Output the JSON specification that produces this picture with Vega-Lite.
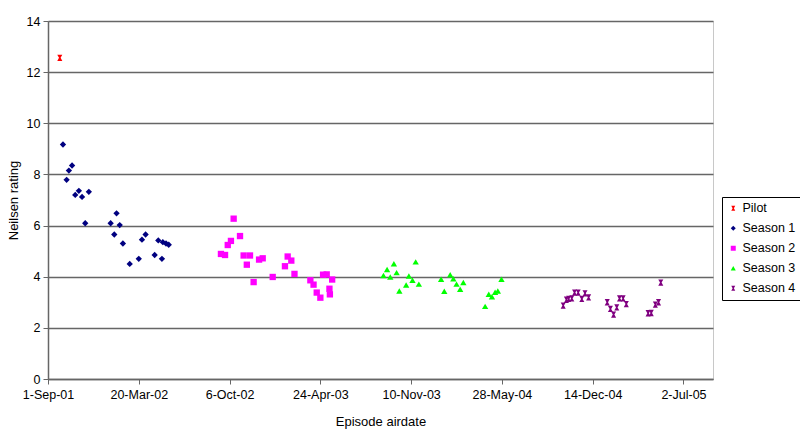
{
  "$schema": "https://vega.github.io/schema/vega-lite/v6.json",
  "width": 665,
  "height": 358,
  "autosize": {"type": "none"},
  "padding": {"left": 48, "top": 21, "right": 87, "bottom": 60},
  "background": "white",
  "config": {
    "font": "Liberation Sans",
    "view": {"stroke": "#c8c8c8", "strokeWidth": 1}
  },
  "data": {
    "values": [
      {"series": "Pilot", "date": "2001-09-27", "rating": 12.56},
      {"series": "Season 1", "date": "2001-10-04", "rating": 9.17},
      {"series": "Season 1", "date": "2001-10-12", "rating": 7.79},
      {"series": "Season 1", "date": "2001-10-17", "rating": 8.15},
      {"series": "Season 1", "date": "2001-10-24", "rating": 8.35},
      {"series": "Season 1", "date": "2001-10-31", "rating": 7.2},
      {"series": "Season 1", "date": "2001-11-08", "rating": 7.36},
      {"series": "Season 1", "date": "2001-11-15", "rating": 7.12},
      {"series": "Season 1", "date": "2001-11-22", "rating": 6.09},
      {"series": "Season 1", "date": "2001-11-30", "rating": 7.32},
      {"series": "Season 1", "date": "2002-01-17", "rating": 6.09},
      {"series": "Season 1", "date": "2002-01-25", "rating": 5.65},
      {"series": "Season 1", "date": "2002-01-30", "rating": 6.48},
      {"series": "Season 1", "date": "2002-02-06", "rating": 6.02},
      {"series": "Season 1", "date": "2002-02-13", "rating": 5.3},
      {"series": "Season 1", "date": "2002-02-28", "rating": 4.5},
      {"series": "Season 1", "date": "2002-03-20", "rating": 4.7},
      {"series": "Season 1", "date": "2002-03-27", "rating": 5.45},
      {"series": "Season 1", "date": "2002-04-04", "rating": 5.65},
      {"series": "Season 1", "date": "2002-04-24", "rating": 4.85},
      {"series": "Season 1", "date": "2002-05-02", "rating": 5.42},
      {"series": "Season 1", "date": "2002-05-10", "rating": 4.7},
      {"series": "Season 1", "date": "2002-05-12", "rating": 5.35},
      {"series": "Season 1", "date": "2002-05-19", "rating": 5.3},
      {"series": "Season 1", "date": "2002-05-25", "rating": 5.25},
      {"series": "Season 2", "date": "2002-09-17", "rating": 4.89},
      {"series": "Season 2", "date": "2002-09-26", "rating": 4.85},
      {"series": "Season 2", "date": "2002-10-02", "rating": 5.24},
      {"series": "Season 2", "date": "2002-10-09", "rating": 5.4},
      {"series": "Season 2", "date": "2002-10-15", "rating": 6.27},
      {"series": "Season 2", "date": "2002-10-29", "rating": 5.59},
      {"series": "Season 2", "date": "2002-11-06", "rating": 4.83},
      {"series": "Season 2", "date": "2002-11-13", "rating": 4.47},
      {"series": "Season 2", "date": "2002-11-20", "rating": 4.83},
      {"series": "Season 2", "date": "2002-11-28", "rating": 3.79},
      {"series": "Season 2", "date": "2002-12-10", "rating": 4.67},
      {"series": "Season 2", "date": "2002-12-18", "rating": 4.72},
      {"series": "Season 2", "date": "2003-01-09", "rating": 3.99},
      {"series": "Season 2", "date": "2003-02-05", "rating": 4.41},
      {"series": "Season 2", "date": "2003-02-11", "rating": 4.79},
      {"series": "Season 2", "date": "2003-02-19", "rating": 4.63},
      {"series": "Season 2", "date": "2003-02-26", "rating": 4.11},
      {"series": "Season 2", "date": "2003-04-02", "rating": 3.86},
      {"series": "Season 2", "date": "2003-04-09", "rating": 3.69},
      {"series": "Season 2", "date": "2003-04-16", "rating": 3.38},
      {"series": "Season 2", "date": "2003-04-24", "rating": 3.18},
      {"series": "Season 2", "date": "2003-04-30", "rating": 4.08},
      {"series": "Season 2", "date": "2003-05-08", "rating": 4.09},
      {"series": "Season 2", "date": "2003-05-14", "rating": 3.53},
      {"series": "Season 2", "date": "2003-05-15", "rating": 3.31},
      {"series": "Season 2", "date": "2003-05-20", "rating": 3.89},
      {"series": "Season 3", "date": "2003-09-10", "rating": 4.05},
      {"series": "Season 3", "date": "2003-09-18", "rating": 4.28},
      {"series": "Season 3", "date": "2003-09-25", "rating": 3.99},
      {"series": "Season 3", "date": "2003-10-03", "rating": 4.51},
      {"series": "Season 3", "date": "2003-10-09", "rating": 4.16},
      {"series": "Season 3", "date": "2003-10-15", "rating": 3.44},
      {"series": "Season 3", "date": "2003-10-30", "rating": 3.68},
      {"series": "Season 3", "date": "2003-11-05", "rating": 4.03},
      {"series": "Season 3", "date": "2003-11-13", "rating": 3.86},
      {"series": "Season 3", "date": "2003-11-20", "rating": 4.58},
      {"series": "Season 3", "date": "2003-11-27", "rating": 3.71},
      {"series": "Season 3", "date": "2004-01-15", "rating": 3.9},
      {"series": "Season 3", "date": "2004-01-22", "rating": 3.43},
      {"series": "Season 3", "date": "2004-02-04", "rating": 4.08},
      {"series": "Season 3", "date": "2004-02-11", "rating": 3.92},
      {"series": "Season 3", "date": "2004-02-18", "rating": 3.71},
      {"series": "Season 3", "date": "2004-02-26", "rating": 3.51},
      {"series": "Season 3", "date": "2004-03-04", "rating": 3.77},
      {"series": "Season 3", "date": "2004-04-21", "rating": 2.84},
      {"series": "Season 3", "date": "2004-04-29", "rating": 3.31},
      {"series": "Season 3", "date": "2004-05-06", "rating": 3.22},
      {"series": "Season 3", "date": "2004-05-13", "rating": 3.39},
      {"series": "Season 3", "date": "2004-05-19", "rating": 3.44},
      {"series": "Season 3", "date": "2004-05-27", "rating": 3.9},
      {"series": "Season 4", "date": "2004-10-10", "rating": 2.87},
      {"series": "Season 4", "date": "2004-10-17", "rating": 3.1},
      {"series": "Season 4", "date": "2004-10-22", "rating": 3.13},
      {"series": "Season 4", "date": "2004-10-29", "rating": 3.15},
      {"series": "Season 4", "date": "2004-11-04", "rating": 3.38},
      {"series": "Season 4", "date": "2004-11-12", "rating": 3.38},
      {"series": "Season 4", "date": "2004-11-20", "rating": 3.13},
      {"series": "Season 4", "date": "2004-11-27", "rating": 3.35},
      {"series": "Season 4", "date": "2004-12-05", "rating": 3.19},
      {"series": "Season 4", "date": "2005-01-15", "rating": 3.0},
      {"series": "Season 4", "date": "2005-01-22", "rating": 2.74},
      {"series": "Season 4", "date": "2005-01-29", "rating": 2.52},
      {"series": "Season 4", "date": "2005-02-05", "rating": 2.8},
      {"series": "Season 4", "date": "2005-02-11", "rating": 3.15},
      {"series": "Season 4", "date": "2005-02-19", "rating": 3.15},
      {"series": "Season 4", "date": "2005-02-26", "rating": 2.93},
      {"series": "Season 4", "date": "2005-04-15", "rating": 2.57},
      {"series": "Season 4", "date": "2005-04-22", "rating": 2.58},
      {"series": "Season 4", "date": "2005-05-01", "rating": 2.91},
      {"series": "Season 4", "date": "2005-05-08", "rating": 3.0},
      {"series": "Season 4", "date": "2005-05-13", "rating": 3.77}
    ]
  },
  "mark": {"type": "point", "filled": true, "opacity": 1, "size": 40},
  "encoding": {
    "x": {
      "field": "date",
      "type": "temporal",
      "scale": {
        "type": "utc",
        "nice": false,
        "domain": [
          {"year": 2001, "month": 9, "date": 1, "utc": true},
          {"year": 2005, "month": 9, "date": 5, "utc": true}
        ]
      },
      "axis": {
        "title": "Episode airdate",
        "labelExpr": "utcFormat(datum.value, '%-d-%b-%y')",
        "values": [
          {"year": 2001, "month": 9, "date": 1, "utc": true},
          {"year": 2002, "month": 3, "date": 20, "utc": true},
          {"year": 2002, "month": 10, "date": 6, "utc": true},
          {"year": 2003, "month": 4, "date": 24, "utc": true},
          {"year": 2003, "month": 11, "date": 10, "utc": true},
          {"year": 2004, "month": 5, "date": 28, "utc": true},
          {"year": 2004, "month": 12, "date": 14, "utc": true},
          {"year": 2005, "month": 7, "date": 2, "utc": true}
        ],
        "grid": false,
        "domainColor": "#666666",
        "domainWidth": 1.5,
        "tickColor": "#666666",
        "tickSize": 5,
        "labelFontSize": 12.5,
        "labelColor": "#000000",
        "labelPadding": 4,
        "labelFlush": false,
        "labelOverlap": false,
        "titleFontSize": 13,
        "titleFontWeight": "normal",
        "titleColor": "#000000",
        "titlePadding": 15
      }
    },
    "y": {
      "field": "rating",
      "type": "quantitative",
      "scale": {"domain": [0, 14], "nice": false},
      "axis": {
        "title": "Neilsen rating",
        "values": [0, 2, 4, 6, 8, 10, 12, 14],
        "grid": true,
        "gridColor": "#666666",
        "gridWidth": 1.5,
        "domainColor": "#666666",
        "domainWidth": 1.5,
        "tickColor": "#666666",
        "tickSize": 5,
        "labelFontSize": 12.5,
        "labelColor": "#000000",
        "labelPadding": 3,
        "titleFontSize": 13,
        "titleFontWeight": "normal",
        "titleColor": "#000000",
        "titlePadding": 6
      }
    },
    "color": {
      "field": "series",
      "type": "nominal",
      "scale": {
        "domain": ["Pilot", "Season 1", "Season 2", "Season 3", "Season 4"],
        "range": ["#ff0000", "#000080", "#ff00ff", "#00ff00", "#800080"]
      },
      "legend": {
        "title": null,
        "orient": "none",
        "legendX": 674,
        "legendY": 176,
        "strokeColor": "#000000",
        "fillColor": "#ffffff",
        "padding": 5,
        "labelFontSize": 12.5,
        "labelColor": "#000000",
        "labelOffset": 3,
        "symbolSize": 25,
        "rowPadding": 7
      }
    },
    "shape": {
      "field": "series",
      "type": "nominal",
      "scale": {
        "domain": ["Pilot", "Season 1", "Season 2", "Season 3", "Season 4"],
        "range": [
          "M-0.8,-1L0.8,-1L0.25,0L0.8,1L-0.8,1L-0.25,0Z",
          "diamond",
          "square",
          "triangle-up",
          "M-0.8,-1L0.8,-1L0.25,0L0.8,1L-0.8,1L-0.25,0Z"
        ]
      },
      "legend": null
    }
  }
}
